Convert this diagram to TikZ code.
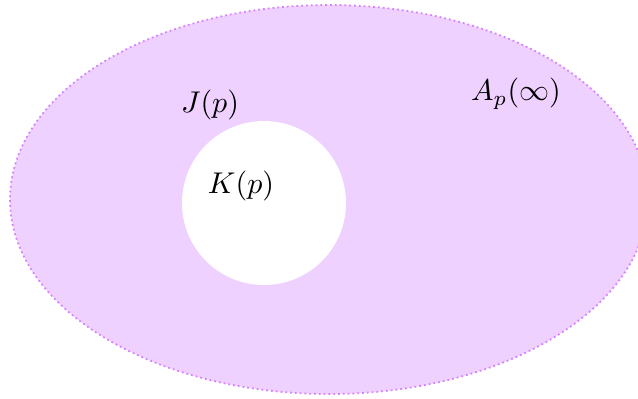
\documentclass[tikz,border=0pt]{standalone}
\begin{document}
\begin{tikzpicture}[x=0.3333pt,y=-0.3333pt,
  region/.style={fill=fillv, draw=edgev, densely dotted, line width=0.6pt},
  hole/.style={fill=white, draw=none},
  lbl/.style={inner sep=0pt, text=black}]
\definecolor{fillv}{RGB}{239,209,255}
\definecolor{edgev}{RGB}{214,130,255}
\useasboundingbox (0,0) rectangle (638,398);
\begin{scope}
\clip (0,0) rectangle (638,398);
\draw[region] (329,199.5) ellipse [x radius=319, y radius=194.5];
\end{scope}
\fill[hole] (264,203) circle [radius=82];
\node[lbl] (J) at (210,105) {$J(p)$};
\node[lbl] (K) at (241,186) {$K(p)$};
\node[lbl] (A) at (516,94) {$A_p(\infty)$};
\end{tikzpicture}
\end{document}
